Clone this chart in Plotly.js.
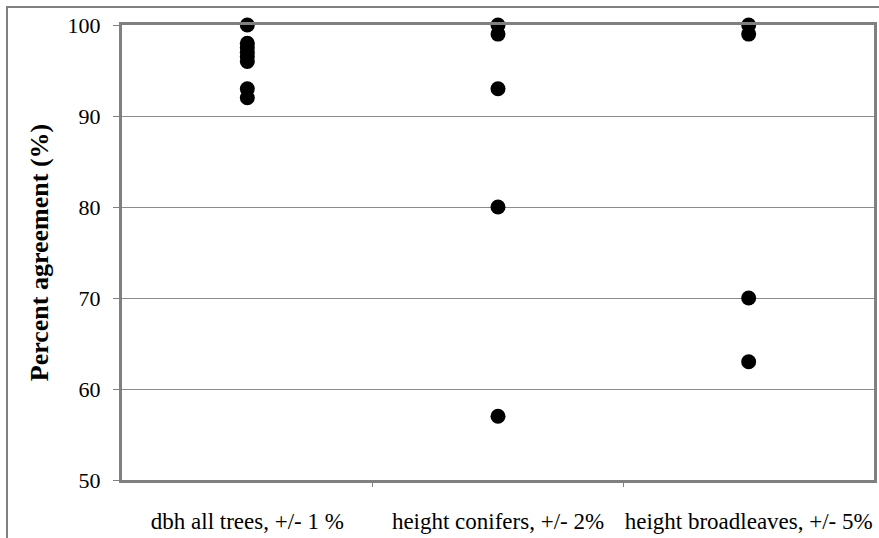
<!DOCTYPE html>
<html><head><meta charset="utf-8">
<script src="https://cdn.plot.ly/plotly-3.0.1.min.js"></script>
<style>
html,body{margin:0;padding:0;background:#fff;overflow:hidden;}
#frame{position:absolute;left:6px;top:6px;width:900px;height:600px;border:2px solid #808080;pointer-events:none;z-index:5;}
#chart{position:absolute;left:0;top:0;width:879px;height:538px;}
</style></head>
<body>
<div id="frame"></div>
<div id="chart"></div>
<script>
const categories = ["dbh all trees, +/- 1 %", "height conifers, +/- 2%", "height broadleaves, +/- 5%"];
const dbhValues = [100, 98, 97.5, 97, 96.5, 96, 93, 92];
const coniferValues = [100, 99, 93, 80, 57];
const broadleafValues = [100, 99, 70, 63];
const yTicks = [50, 60, 70, 80, 90, 100];

const series = [dbhValues, coniferValues, broadleafValues];
const traces = series.map((vals, i) => ({
  type: 'scatter', mode: 'markers',
  x: vals.map(() => i), y: vals,
  marker: {color: '#000', size: 15},
  showlegend: false, hoverinfo: 'skip', cliponaxis: false
}));
traces.push({type:'scatter', mode:'markers', x:[0], y:[50], xaxis:'x2', marker:{opacity:0}, showlegend:false, hoverinfo:'skip'});

const fam = '"Liberation Serif", "Times New Roman", serif';
const layout = {
  width: 879, height: 538,
  margin: {l: 122, r: 5, t: 25, b: 58},
  paper_bgcolor: '#fff', plot_bgcolor: '#fff',
  font: {family: fam, size: 22, color: '#000'},
  xaxis: {
    range: [-0.5, 2.5], tickvals: [0, 1, 2], ticktext: categories,
    showgrid: false, zeroline: false, ticks: '',
    showline: true, linecolor: '#808080', linewidth: 3, mirror: true,
    tickfont: {family: fam, size: 23, color: '#000'}, ticklabelstandoff: 18
  },
  xaxis2: {
    overlaying: 'x', range: [-0.5, 2.5], tickvals: [0.5, 1.5], showticklabels: false,
    ticks: 'outside', ticklen: 6, tickcolor: '#808080', tickwidth: 1,
    showgrid: false, zeroline: false, showline: false, side: 'bottom'
  },
  yaxis: {
    range: [50, 100], tickvals: yTicks, ticks: 'outside', ticklen: 6, tickcolor: '#808080',
    showgrid: true, gridcolor: '#8c8c8c', gridwidth: 1, zeroline: false,
    showline: true, linecolor: '#808080', linewidth: 3, mirror: true,
    tickfont: {family: fam, size: 22, color: '#000'}, ticklabelstandoff: 8,
    title: {text: '<b>Percent agreement (%)</b>', font: {family: fam, size: 26, color: '#000'}, standoff: 12}
  }
};
Plotly.newPlot('chart', traces, layout, {displayModeBar: false, staticPlot: true});
</script>
</body></html>
